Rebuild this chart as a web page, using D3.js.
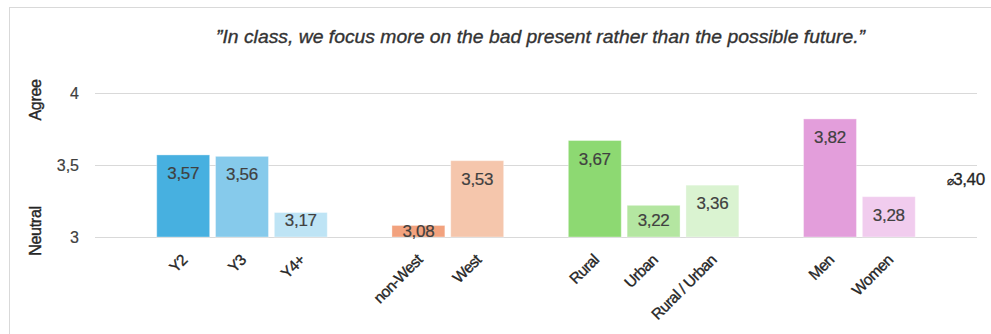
<!DOCTYPE html>
<html>
<head>
<meta charset="utf-8">
<script src="https://cdn.jsdelivr.net/npm/d3@7"></script>
<style>
  html, body { margin: 0; padding: 0; background: #fff; }
  svg { display: block; font-family: "Liberation Sans", Arial, sans-serif; }
</style>
</head>
<body>
<svg id="chart" width="991" height="334"></svg>
<script>
// Survey statement and answers per subgroup (1–5 Likert scale, means)
const title = "\u201DIn class, we focus more on the bad present rather than the possible future.\u201D";
const categories = ["Y2", "Y3", "Y4+", "non-West", "West", "Rural", "Urban", "Rural / Urban", "Men", "Women"];
const groupIndex = [0, 0, 0, 1, 1, 2, 2, 2, 3, 3];
const values = [3.57, 3.56, 3.17, 3.08, 3.53, 3.67, 3.22, 3.36, 3.82, 3.28];
const colors = ["#47B0E0", "#86CAEB", "#BEE4F5", "#F2A27E", "#F5C6AC", "#8DD972", "#B4E6A1", "#DAF3D1", "#E39EDB", "#F1CCEE"];
const overallMean = 3.40;
const yTicks = [3, 3.5, 4];
const yTickLabels = ["3", "3,5", "4"];
const scaleLabels = [{ text: "Agree", value: 4 }, { text: "Neutral", value: 3 }];

const svg = d3.select("#chart");
const comma = v => d3.format(".2f")(v).replace(".", ",");

// Slots along the x axis: a blank slot before each group and after the last one
const slots = ["_gap0"];
categories.forEach((c, i) => {
  slots.push(c);
  if (i === categories.length - 1 || groupIndex[i + 1] !== groupIndex[i]) slots.push("_gap" + (groupIndex[i] + 1));
});

const x = d3.scaleBand().domain(slots).range([95, 977]).paddingInner(0.1).paddingOuter(0.05);
const y = d3.scaleLinear().domain([3, 4]).range([237, 93]);

// Chart frame
svg.append("rect").attr("x", 9.5).attr("y", 7.5).attr("width", 1000).attr("height", 340)
  .attr("fill", "none").attr("stroke", "#D9D9D9");

// Title
svg.append("text").attr("x", 216).attr("y", 43)
  .attr("font-size", 19).attr("font-style", "italic").attr("fill", "#333")
  .attr("stroke", "#333").attr("stroke-width", 0.35)
  .attr("textLength", 649).attr("lengthAdjust", "spacingAndGlyphs")
  .text(title);

// Gridlines
svg.append("g").selectAll("line").data(yTicks).join("line")
  .attr("x1", 95).attr("x2", 977)
  .attr("y1", d => Math.round(y(d)) + 0.5).attr("y2", d => Math.round(y(d)) + 0.5)
  .attr("stroke", "#D9D9D9").attr("stroke-width", 1);

// Y tick labels
svg.append("g").selectAll("text").data(yTicks).join("text")
  .attr("x", 79).attr("y", d => y(d)).attr("dy", "0.35em")
  .attr("text-anchor", "end").attr("font-size", 16).attr("fill", "#404040")
  .attr("stroke", "#404040").attr("stroke-width", 0.2)
  .text((d, i) => yTickLabels[i]);

// Scale anchors (Agree / Neutral), rotated
svg.append("g").selectAll("text").data(scaleLabels).join("text")
  .attr("transform", d => `translate(41,${d.value === 4 ? 100 : 231}) rotate(-90)`)
  .attr("text-anchor", "middle").attr("font-size", 16).attr("fill", "#262626")
  .attr("stroke", "#262626").attr("stroke-width", 0.4)
  .attr("letter-spacing", "-0.3")
  .text(d => d.text);

const data = categories.map((c, i) => ({ c, v: values[i], color: colors[i] }));

// Bars
svg.append("g").selectAll("rect").data(data).join("rect")
  .attr("x", d => x(d.c)).attr("width", x.bandwidth())
  .attr("y", d => y(d.v)).attr("height", d => y(3) - y(d.v))
  .attr("fill", d => d.color)
  .attr("stroke", "rgba(255,255,255,0.35)").attr("stroke-width", 1);

// Value labels inside the bar end
svg.append("g").selectAll("text").data(data).join("text")
  .attr("x", d => x(d.c) + x.bandwidth() / 2)
  .attr("y", d => {
    const top = y(d.v);
    return Math.min(top + 24, Math.max(top + 12, y(3) - 11));
  })
  .attr("text-anchor", "middle").attr("font-size", 17).attr("fill", "#404040")
  .attr("stroke", "#404040").attr("stroke-width", 0.2)
  .attr("letter-spacing", "-0.3")
  .text(d => comma(d.v));

// Category labels, rotated 45°
svg.append("g").selectAll("text").data(data).join("text")
  .attr("transform", d => `translate(${x(d.c) + x.bandwidth() / 2 + 5},261) rotate(-45)`)
  .attr("text-anchor", "end").attr("font-size", 15.5).attr("fill", "#262626")
  .attr("stroke", "#262626").attr("stroke-width", 0.35)
  .attr("letter-spacing", "-0.6")
  .text(d => d.c);

// Overall mean, in the trailing slot
const lastSlot = slots[slots.length - 1];
const mean = svg.append("text")
  .attr("x", x(lastSlot) + x.bandwidth() / 2 - 1).attr("y", y(overallMean)).attr("dy", "0.35em")
  .attr("fill", "#262626").attr("stroke", "#262626").attr("stroke-width", 0.3)
  .attr("font-size", 17).attr("letter-spacing", "-0.4");
mean.append("tspan").attr("font-size", 12).text("\u2300");
mean.append("tspan").text(comma(overallMean));
</script>
</body>
</html>
